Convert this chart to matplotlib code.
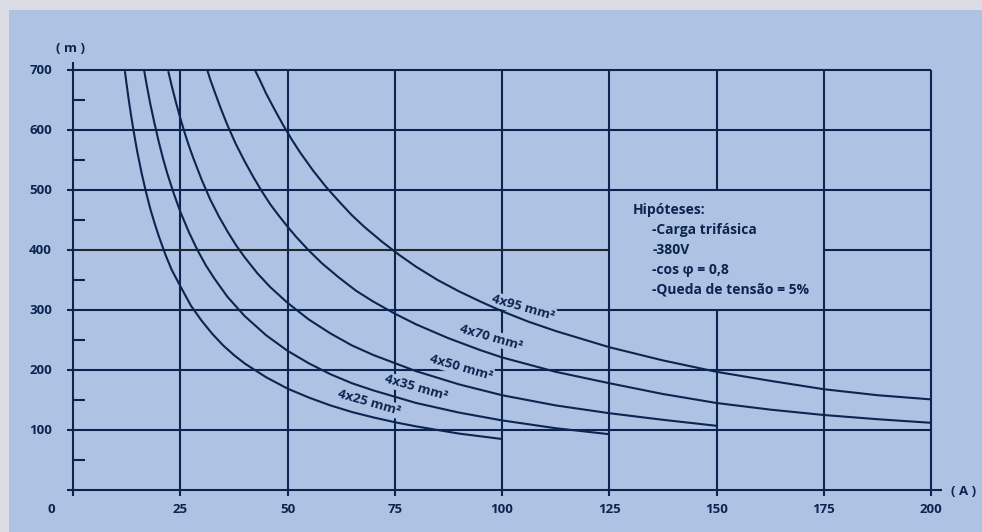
import matplotlib
matplotlib.use("Agg")
import matplotlib.pyplot as plt

# ---------------- data ----------------
I_25 = [12.1, 12.5, 13, 13.5, 14, 14.5, 15, 16, 17, 18, 19, 20, 21.5, 23, 25, 27.5, 30, 32.5,
        35, 37.5, 40, 45, 50, 55, 60, 65, 70, 75, 80, 90, 100]
L_25 = [698, 676, 650, 626, 604, 583, 563, 528, 497, 469, 445, 423, 393, 367, 340, 307, 282, 260,
        241, 225, 211, 188, 169, 154, 141, 130, 121, 113, 106, 94, 85]

I_35 = [16.6, 17, 17.5, 18, 19, 20, 21, 22, 23.5, 25, 27, 29, 31, 33, 36, 40, 45, 50, 55, 60,
        65, 70, 80, 90, 100, 112.5, 125]
L_35 = [699, 682, 663, 644, 611, 580, 552, 527, 494, 464, 430, 400, 374, 352, 322, 290, 258, 232,
        211, 193, 178, 166, 145, 129, 116, 103, 93]

I_50 = [22.2, 23, 24, 25, 26, 27, 28, 30, 32, 34, 36, 38, 40, 43, 46, 50, 55, 60, 65, 70, 80, 90,
        100, 112.5, 125, 137.5, 150]
L_50 = [698, 674, 646, 620, 596, 574, 554, 517, 484, 456, 431, 408, 388, 361, 338, 312, 284, 261,
        241, 225, 198, 176, 158, 141, 128, 117, 107]

I_70 = [31.3, 32, 33, 34.5, 36, 38, 40, 42, 44, 46, 48, 50, 52, 55, 58, 62, 66, 70, 75, 80, 87.5,
        95, 100, 112.5, 125, 137.5, 150, 162.5, 175, 187.5, 200]
L_70 = [700, 684, 664, 635, 608, 576, 548, 522, 498, 476, 457, 439, 422, 399, 378, 354, 332, 314,
        294, 276, 253, 233, 221, 197, 178, 160, 145, 134, 125, 118, 112]

I_95 = [42.4, 43.5, 45, 47, 49, 51, 53, 56, 59, 62, 65, 68, 72, 76, 80, 85, 90, 95, 100, 106,
        112.5, 125, 137.5, 150, 162.5, 175, 187.5, 200]
L_95 = [700, 684, 661, 634, 608, 584, 562, 532, 505, 481, 458, 438, 414, 392, 372, 350, 331, 314,
        298, 281, 265, 238, 216, 197, 182, 168, 158, 151]

series_labels = ["4x25 mm²", "4x35 mm²", "4x50 mm²", "4x70 mm²", "4x95 mm²"]
x_ticks = [25, 50, 75, 100, 125, 150, 175, 200]
x_tick_labels = ["25", "50", "75", "100", "125", "150", "175", "200"]
y_ticks = [100, 200, 300, 400, 500, 600, 700]
y_tick_labels = ["100", "200", "300", "400", "500", "600", "700"]
y_minor = [50, 150, 250, 350, 450, 550, 650]
legend_title = "Hipóteses:"
legend_items = ["-Carga trifásica", "-380V", "-cos φ = 0,8", "-Queda de tensão = 5%"]

# ---------------- style ----------------
NAVY = "#0c2450"
PANEL = "#aec3e3"
OUTER = "#dcdde4"
FONT = ["Open Sans", "DejaVu Sans"]

W, H = 982, 532
fig = plt.figure(figsize=(W / 100, H / 100), dpi=100, facecolor=OUTER)

# blue panel as a background axes
bg = fig.add_axes([9 / W, 0, 1 - 9 / W, 1 - 10 / H], zorder=-5)
bg.set_facecolor(PANEL)
bg.set_xticks([])
bg.set_yticks([])
for s in bg.spines.values():
    s.set_visible(False)

left, right, top, bottom = 73, 931, 70, 490
ax = fig.add_axes([left / W, (H - bottom) / H, (right - left) / W, (bottom - top) / H], zorder=1)
ax.set_xlim(0, 200)
ax.set_ylim(0, 700)
ax.set_axis_off()

glw = 1.5
kw = dict(color=NAVY, lw=glw, clip_on=False, solid_capstyle="butt", zorder=1)

# vertical grid lines (150 line interrupted by the hypotheses block)
for xv in x_ticks:
    if xv == 150:
        ax.plot([xv, xv], [-10, 300], **kw)
        ax.plot([xv, xv], [500, 700], **kw)
    else:
        ax.plot([xv, xv], [-10, 700], **kw)

# horizontal grid lines
for yv in y_ticks:
    if yv == 400:
        ax.plot([-1.4, 125], [yv, yv], color="#222630", lw=glw, clip_on=False,
                solid_capstyle="butt", zorder=1)
        ax.plot([175, 200], [yv, yv], **kw)
    else:
        ax.plot([-1.4, 200], [yv, yv], **kw)

# axes
ax.plot([0, 0], [-10, 713], **kw)
ax.plot([-1.4, 202.5], [0, 0], **kw)
for ym in y_minor:
    ax.plot([0, 2.8], [ym, ym], **kw)

# curves
for xs, ys in [(I_25, L_25), (I_35, L_35), (I_50, L_50), (I_70, L_70), (I_95, L_95)]:
    ax.plot(xs, ys, color=NAVY, lw=1.5, zorder=4, solid_capstyle="butt",
            solid_joinstyle="round", clip_on=False)

# curve labels
label_pos = [(69.0, 145), (80.0, 170), (90.4, 204), (97.4, 254), (104.9, 304)]
for txt, (lx, ly) in zip(series_labels, label_pos):
    ax.text(lx, ly, txt, rotation=-16, rotation_mode="anchor", ha="center", va="center",
            fontsize=9.5, fontweight="bold", color=NAVY, family=FONT, zorder=3,
            bbox=dict(facecolor=PANEL, edgecolor="none", pad=0.8))

# tick labels
for yv, lab in zip(y_ticks, y_tick_labels):
    ax.text(-4.9, yv, lab, ha="right", va="center", fontsize=9.5, fontweight="bold",
            color=NAVY, family=FONT)
for xv, lab in zip(x_ticks, x_tick_labels):
    ax.text(xv, -33, lab, ha="center", va="center", fontsize=9.5, fontweight="bold",
            color=NAVY, family=FONT)
ax.text(-5.1, -33, "0", ha="center", va="center", fontsize=9.5, fontweight="bold",
        color=NAVY, family=FONT)

# axis units
ax.text(-0.5, 735, "( m )", ha="center", va="center", fontsize=9.5, fontweight="bold",
        color=NAVY, family=FONT)
ax.text(207.5, -2, "( A )", ha="center", va="center", fontsize=9.5, fontweight="bold",
        color=NAVY, family=FONT)

# hypotheses block
ax.text(130.5, 467, legend_title, ha="left", va="center", fontsize=10, fontweight="bold",
        color=NAVY, family=FONT)
for i, item in enumerate(legend_items):
    ax.text(135, 433.5 - i * 33.3, item, ha="left", va="center", fontsize=10,
            fontweight="bold", color=NAVY, family=FONT)

fig.savefig("out.png", dpi=100, facecolor=fig.get_facecolor())
